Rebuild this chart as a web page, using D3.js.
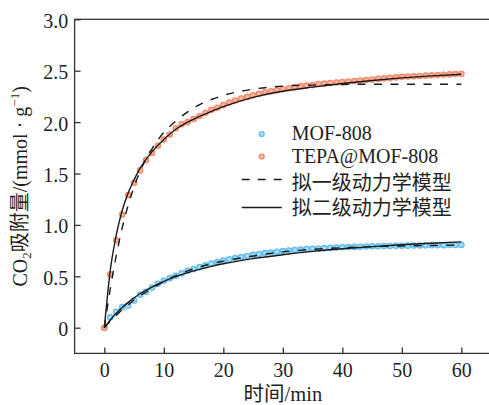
<!DOCTYPE html>
<html>
<head>
<meta charset="utf-8">
<script src="https://cdn.jsdelivr.net/npm/d3@7"></script>
<style>
  html, body { margin: 0; padding: 0; background: #fff; }
  svg { display: block; }
</style>
</head>
<body>
<svg id="chart" width="489" height="405"></svg>
<script>
// Adsorption time, min
const time = [0,1,2,3,4,5,6,7,8,9,10,11,12,13,14,15,16,17,18,19,20,
  21,22,23,24,25,26,27,28,29,30,31,32,33,34,35,36,37,38,39,40,
  41,42,43,44,45,46,47,48,49,50,51,52,53,54,55,56,57,58,59,60];

// Measured CO2 uptake, mmol/g
const mof808 = [0,0.10,0.155,0.20,0.215,0.265,0.32,0.35,0.39,0.427,0.456,
  0.482,0.505,0.53,0.553,0.57,0.589,0.607,0.623,0.638,0.652,
  0.665,0.677,0.688,0.698,0.708,0.717,0.725,0.732,0.739,0.745,
  0.750,0.755,0.760,0.764,0.768,0.771,0.774,0.777,0.780,0.782,
  0.784,0.786,0.788,0.790,0.792,0.793,0.794,0.795,0.796,0.797,
  0.798,0.799,0.800,0.801,0.802,0.802,0.803,0.804,0.804,0.805];

const tepaMof808 = [0,0.52,0.85,1.10,1.29,1.41,1.53,1.63,1.70,1.77,1.83,
  1.88,1.94,1.98,2.00,2.03,2.06,2.09,2.12,2.14,2.165,
  2.19,2.21,2.23,2.245,2.26,2.275,2.29,2.30,2.31,2.32,
  2.33,2.34,2.35,2.355,2.36,2.37,2.375,2.38,2.385,2.39,
  2.395,2.40,2.405,2.41,2.415,2.42,2.425,2.43,2.435,2.44,
  2.443,2.446,2.449,2.452,2.455,2.458,2.461,2.464,2.467,2.47];

// Kinetic model curves
const fitTime = [0,1,2,3,4,5,6,8,10,12,14,16,18,20,25,30,35,40,45,50,55,60];
const pfoMof808  = [0,0.063,0.12,0.175,0.224,0.27,0.31,0.38,0.45,0.506,0.552,0.59,0.622,0.648,0.697,0.738,0.762,0.778,0.789,0.795,0.80,0.804];
const psoMof808  = [0,0.075,0.14,0.196,0.246,0.29,0.33,0.395,0.45,0.496,0.535,0.568,0.597,0.622,0.672,0.71,0.742,0.768,0.789,0.807,0.822,0.835];
const pfoTepa    = [0,0.38,0.70,0.97,1.19,1.37,1.52,1.74,1.90,2.01,2.10,2.17,2.22,2.26,2.32,2.35,2.36,2.366,2.368,2.368,2.368,2.368];
const psoTepa    = [0,0.56,0.90,1.14,1.31,1.44,1.55,1.71,1.83,1.93,2.00,2.055,2.105,2.15,2.24,2.30,2.34,2.375,2.405,2.43,2.45,2.465];

const xTicks = [0,10,20,30,40,50,60];
const yTicks = [0,0.5,1.0,1.5,2.0,2.5,3.0];
const yTickLabels = ["0","0.5","1.0","1.5","2.0","2.5","3.0"];
const seriesNames = ["MOF-808","TEPA@MOF-808"];
const modelNames = ["拟一级动力学模型","拟二级动力学模型"];

const FONT = "'Liberation Serif','Times New Roman','Noto Sans CJK SC',serif";
const INK = "#231f20";
const AXIS = "#333333";

const svg = d3.select("#chart");

const x = d3.scaleLinear().domain([-5, 65]).range([74.6, 491.1]);
const y = d3.scaleLinear().domain([-0.25, 3.0]).range([353.4, 19.3]);

// marker fills: light centre fading to the series colour
const defs = svg.append("defs");
function sphere(id, inner, mid, outer) {
  const g = defs.append("radialGradient").attr("id", id)
    .attr("cx", "50%").attr("cy", "50%").attr("r", "50%");
  g.append("stop").attr("offset", "0%").attr("stop-color", inner);
  g.append("stop").attr("offset", "45%").attr("stop-color", mid);
  g.append("stop").attr("offset", "100%").attr("stop-color", outer);
}
sphere("gBlue", "#d8f1fd", "#8fd3f4", "#4fb4e8");
sphere("gOrange", "#fdd5c6", "#f8a68b", "#f07f62");

// plot frame
svg.append("rect")
  .attr("x", x(-5)).attr("y", y(3.0))
  .attr("width", x(65) - x(-5)).attr("height", y(-0.25) - y(3.0))
  .attr("fill", "none").attr("stroke", AXIS).attr("stroke-width", 1.3);

// axes
const xAxis = d3.axisBottom(x).tickValues(xTicks).tickFormat(d3.format("d"))
  .tickSizeInner(-6).tickSizeOuter(0).tickPadding(9.4);
const yAxis = d3.axisLeft(y).tickValues(yTicks).tickFormat((d, i) => yTickLabels[i])
  .tickSizeInner(-6).tickSizeOuter(0).tickPadding(6.3);

const gx = svg.append("g").attr("transform", `translate(0,${y(-0.25)})`).call(xAxis);
const gy = svg.append("g").attr("transform", `translate(${x(-5)},0)`).call(yAxis);
[gx, gy].forEach(g => {
  g.select(".domain").remove();
  g.selectAll(".tick line").attr("stroke", AXIS).attr("stroke-width", 1.3);
  g.selectAll(".tick text").attr("fill", INK).style("font-family", FONT).style("font-size", "20px");
});
gy.selectAll(".tick text").attr("dy", "0.4em");

// measured points
function points(values, fill) {
  svg.append("g").selectAll("circle")
    .data(time.map((t, i) => [t, values[i]]))
    .join("circle")
    .attr("cx", d => x(d[0])).attr("cy", d => y(d[1]))
    .attr("r", 3.3)
    .attr("fill", fill);
}
points(mof808, "url(#gBlue)");
points(tepaMof808, "url(#gOrange)");

// model curves
const line = d3.line().x(d => x(d[0])).y(d => y(d[1])).curve(d3.curveMonotoneX);
function curve(values, dashed) {
  svg.append("path")
    .datum(fitTime.map((t, i) => [t, values[i]]))
    .attr("d", line)
    .attr("fill", "none")
    .attr("stroke", "#1a1a1a")
    .attr("stroke-width", 1.4)
    .attr("stroke-dasharray", dashed ? "8,8.5" : null);
}
curve(pfoMof808, true);
curve(pfoTepa, true);
curve(psoMof808, false);
curve(psoTepa, false);

// legend
const lg = svg.append("g");
const markerFills = ["url(#gBlue)", "url(#gOrange)"];
const rowBase = [139.5, 163, 190, 214.5];
const rowMid = [134, 156.5, 179.5, 207.5];
seriesNames.forEach((name, i) => {
  lg.append("circle").attr("cx", 261.7).attr("cy", rowMid[i]).attr("r", 3.1).attr("fill", markerFills[i]);
  lg.append("text").attr("x", 291.7).attr("y", rowBase[i]).text(name);
});
modelNames.forEach((name, j) => {
  const i = j + 2;
  lg.append("line").attr("x1", 241.7).attr("x2", 281.7)
    .attr("y1", rowMid[i]).attr("y2", rowMid[i])
    .attr("stroke", "#1a1a1a").attr("stroke-width", 1.4)
    .attr("stroke-dasharray", j === 0 ? "8,8" : null);
  lg.append("text").attr("x", 291.7).attr("y", rowBase[i]).text(name);
});
lg.selectAll("text").attr("fill", INK).style("font-family", FONT).style("font-size", "20px");

// axis titles
svg.append("text")
  .attr("x", (x(-5) + x(65)) / 2).attr("y", 401)
  .attr("text-anchor", "middle")
  .attr("fill", INK).style("font-family", FONT).style("font-size", "20.5px")
  .text("时间/min");

const yl = svg.append("text")
  .attr("transform", `translate(26.5,${(y(3.0) + y(-0.25)) / 2}) rotate(-90)`)
  .attr("text-anchor", "middle")
  .attr("fill", INK).style("font-family", FONT).style("font-size", "20px");
yl.append("tspan").text("CO");
yl.append("tspan").attr("dy", 4).style("font-size", "13px").text("2");
yl.append("tspan").attr("dy", -4).text("吸附量/(mmol · g");
yl.append("tspan").attr("dy", -8).style("font-size", "13px").text("−1");
yl.append("tspan").attr("dy", 8).text(")");
</script>
</body>
</html>
